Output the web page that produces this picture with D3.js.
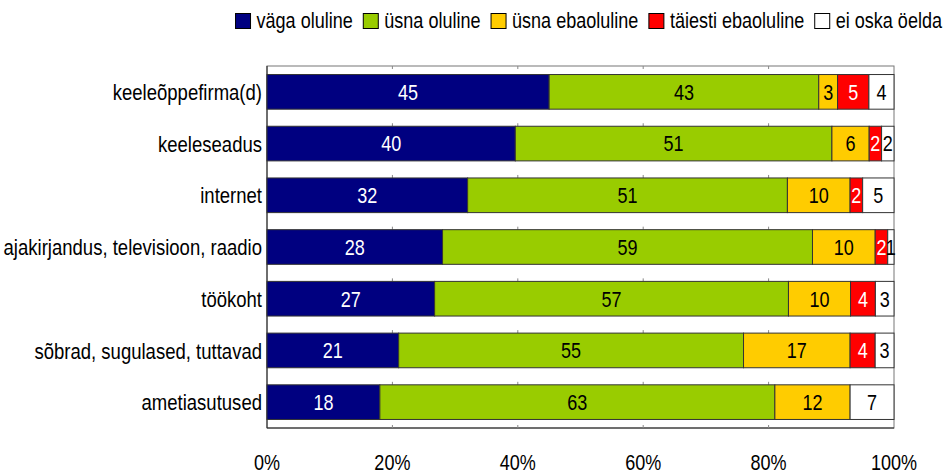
<!DOCTYPE html>
<html>
<head>
<meta charset="utf-8">
<script src="https://cdn.jsdelivr.net/npm/d3@7"></script>
<style>
  body { margin: 0; background: #fff; }
  svg text { font-family: "Liberation Sans", Arial, sans-serif; font-size: 22px; }
</style>
</head>
<body>
<div id="container"></div>
<script>
var W = 943, H = 473,
    margin = {top: 66, right: 49, bottom: 45, left: 267},
    w = W - margin.left - margin.right,
    h = H - margin.top - margin.bottom,
    narrow = 0.82;   // squeeze text to look like a narrow face

// data (percent)
var categories = ['keeleõppefirma(d)', 'keeleseadus', 'internet',
    'ajakirjandus, televisioon, raadio', 'töökoht',
    'sõbrad, sugulased, tuttavad', 'ametiasutused'];
var seriesNames = ['väga oluline', 'üsna oluline', 'üsna ebaoluline', 'täiesti ebaoluline', 'ei oska öelda'];
var vagaOluline       = [45, 40, 32, 28, 27, 21, 18];
var usnaOluline       = [43, 51, 51, 59, 57, 55, 63];
var usnaEbaoluline    = [3, 6, 10, 10, 10, 17, 12];
var taiestiEbaoluline = [5, 2, 2, 2, 4, 4, 0];
var eiOskaOelda       = [4, 2, 5, 1, 3, 3, 7];
var tickLabels = ['0%', '20%', '40%', '60%', '80%', '100%'];

var colors = ['#000080', '#99cc00', '#ffcc00', '#ff0000', '#ffffff'];
var textColors = ['#fff', '#000', '#000', '#fff', '#000'];

var seriesValues = [vagaOluline, usnaOluline, usnaEbaoluline, taiestiEbaoluline, eiOskaOelda];
var rows = categories.map(function(c, i) {
    var r = {cat: c};
    seriesNames.forEach(function(s, j) { r[s] = seriesValues[j][i]; });
    return r;
});

var stacked = d3.stack()
    .keys(seriesNames)
    .offset(d3.stackOffsetExpand)(rows);

var svg = d3.select('#container').append('svg')
    .attr('width', W)
    .attr('height', H);

var x = d3.scaleLinear().domain([0, 1]).range([0, w]);
var y = d3.scaleBand().domain(categories).range([0, h]).paddingInner(0.33).paddingOuter(0.165);

function place(tx, ty) { return 'translate(' + tx + ',' + ty + ') scale(' + narrow + ',1)'; }

var g = svg.append('g').attr('transform', 'translate(' + margin.left + ',' + margin.top + ')');

// frame
g.append('rect')
    .attr('x', 0).attr('y', 0)
    .attr('width', w).attr('height', h)
    .attr('fill', 'none')
    .attr('stroke', '#777');
g.append('line').attr('x1', 0).attr('x2', 0).attr('y1', 0).attr('y2', h).attr('stroke', '#222');
g.append('line').attr('x1', 0).attr('x2', w).attr('y1', h).attr('y2', h).attr('stroke', '#222');

// small grid ticks seen in the gaps
var gridTicks = [0.2, 0.4, 0.6, 0.8];
var tickYs = [0].concat(categories.slice(1).map(function(c) { return y(c) - 3; })).concat([h - 3]);
tickYs.forEach(function(ty) {
    g.selectAll(null).data(gridTicks).enter().append('line')
        .attr('x1', d => x(d)).attr('x2', d => x(d))
        .attr('y1', ty).attr('y2', ty + 3)
        .attr('stroke', '#888');
});

// bars
var layer = g.selectAll('.layer').data(stacked).enter().append('g')
    .attr('class', 'layer')
    .attr('fill', (d, i) => colors[i]);

layer.selectAll('rect').data(d => d.filter(p => p[1] > p[0])).enter().append('rect')
    .attr('x', d => x(d[0]))
    .attr('y', d => y(d.data.cat))
    .attr('width', d => x(d[1]) - x(d[0]))
    .attr('height', y.bandwidth())
    .attr('stroke', '#333');

// value labels
stacked.forEach(function(s, i) {
    g.selectAll(null).data(s.filter(p => p[1] > p[0])).enter().append('text')
        .attr('transform', d => place(x((d[0] + d[1]) / 2), y(d.data.cat) + y.bandwidth() / 2))
        .attr('dy', '0.36em')
        .attr('text-anchor', 'middle')
        .attr('fill', textColors[i])
        .text(d => d.data[s.key]);
});

// category labels
g.selectAll('.cat').data(categories).enter().append('text')
    .attr('class', 'cat')
    .attr('transform', d => place(-5, y(d) + y.bandwidth() / 2))
    .attr('dy', '0.36em')
    .attr('text-anchor', 'end')
    .style('font-size', '22.6px')
    .text(d => d);

// x axis labels
g.selectAll('.xt').data(tickLabels).enter().append('text')
    .attr('class', 'xt')
    .attr('transform', (d, i) => place(x(i / (tickLabels.length - 1)), h + 42))
    .attr('text-anchor', 'middle')
    .text(d => d);

// legend, right aligned at top
var legend = svg.append('g');
var items = legend.selectAll('g').data(seriesNames).enter().append('g');
items.append('rect')
    .attr('width', 15).attr('height', 15)
    .attr('y', -14.5)
    .attr('fill', (d, i) => colors[i])
    .attr('stroke', '#000');
items.append('text')
    .attr('transform', place(21, 0))
    .text(d => d);
var cx = 0;
items.each(function() {
    d3.select(this).attr('transform', 'translate(' + cx + ',0)');
    cx += 21 + d3.select(this).select('text').node().getComputedTextLength() * narrow + 10.5;
});
legend.attr('transform', 'translate(' + (942 - (cx - 10.5)) + ',28)');
</script>
</body>
</html>
